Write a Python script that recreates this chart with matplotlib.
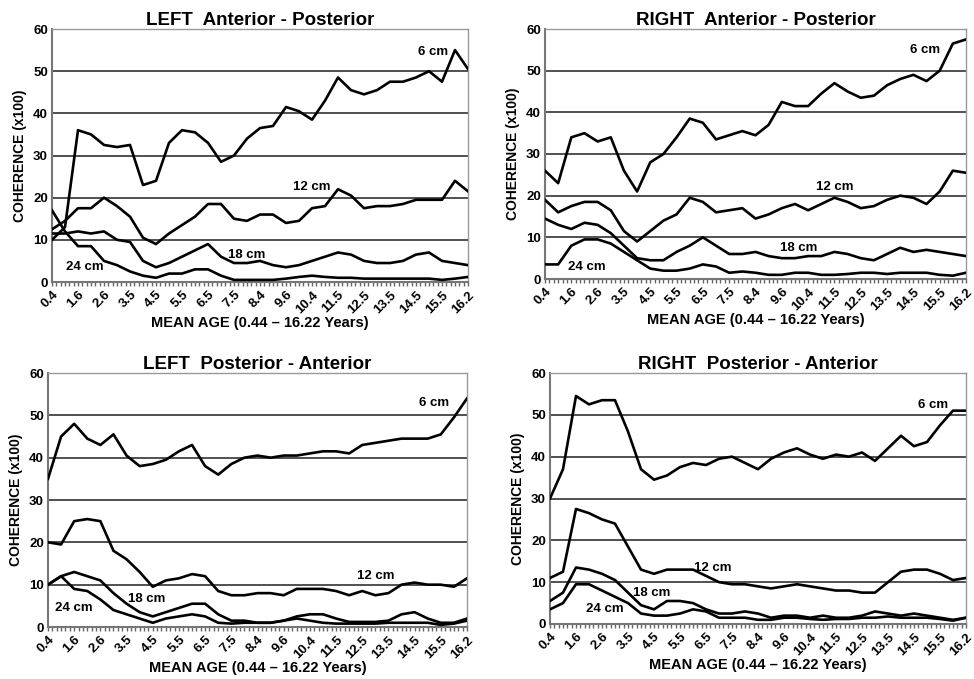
import numpy as np
import matplotlib
matplotlib.use("Agg")
import matplotlib.pyplot as plt
from matplotlib.ticker import MultipleLocator

plt.rcParams['font.family'] = ['Liberation Sans', 'DejaVu Sans']

# age tick labels (every second sample)
age_labels = ['0.4', '1.6', '2.6', '3.5', '4.5', '5.5', '6.5', '7.5', '8.4',
              '9.6', '10.4', '11.5', '12.5', '13.5', '14.5', '15.5', '16.2']

# LEFT Anterior - Posterior
la_6 = [10, 13, 36, 35, 32.5, 32, 32.5, 23, 24, 33, 36, 35.5, 33, 28.5, 30, 34, 36.5,
        37, 41.5, 40.5, 38.5, 43, 48.5, 45.5, 44.5, 45.5, 47.5, 47.5, 48.5, 50, 47.5, 55, 50.5]
la_12 = [12.5, 14.5, 17.5, 17.5, 20, 18, 15.5, 10.5, 9, 11.5, 13.5, 15.5, 18.5, 18.5, 15, 14.5, 16,
         16, 14, 14.5, 17.5, 18, 22, 20.5, 17.5, 18, 18, 18.5, 19.5, 19.5, 19.5, 24, 21.5]
la_18 = [11.5, 11.5, 12, 11.5, 12, 10, 9.5, 5, 3.5, 4.5, 6, 7.5, 9, 6, 4.5, 4.5, 5,
         4, 3.5, 4, 5, 6, 7, 6.5, 5, 4.5, 4.5, 5, 6.5, 7, 5, 4.5, 4]
la_24 = [17, 12, 8.5, 8.5, 5, 4, 2.5, 1.5, 1, 2, 2, 3, 3, 1.5, 0.5, 0.5, 0.5,
         0.5, 0.8, 1.2, 1.5, 1.2, 1, 1, 0.8, 0.8, 0.8, 0.8, 0.8, 0.8, 0.5, 0.8, 1.2]

# RIGHT Anterior - Posterior
ra_6 = [26, 23, 34, 35, 33, 34, 26, 21, 28, 30, 34, 38.5, 37.5, 33.5, 34.5, 35.5, 34.5,
        37, 42.5, 41.5, 41.5, 44.5, 47, 45, 43.5, 44, 46.5, 48, 49, 47.5, 50, 56.5, 57.5]
ra_12 = [19, 16, 17.5, 18.5, 18.5, 16.5, 11.5, 9, 11.5, 14, 15.5, 19.5, 18.5, 16, 16.5, 17, 14.5,
         15.5, 17, 18, 16.5, 18, 19.5, 18.5, 17, 17.5, 19, 20, 19.5, 18, 21, 26, 25.5]
ra_18 = [14.5, 13, 12, 13.5, 13, 11, 8, 5, 4.5, 4.5, 6.5, 8, 10, 8, 6, 6, 6.5,
         5.5, 5, 5, 5.5, 5.5, 6.5, 6, 5, 4.5, 6, 7.5, 6.5, 7, 6.5, 6, 5.5]
ra_24 = [3.5, 3.5, 8, 9.5, 9.5, 8.5, 6.5, 4.5, 2.5, 2, 2, 2.5, 3.5, 3, 1.5, 1.8, 1.5,
         1, 1, 1.5, 1.5, 1, 1, 1.2, 1.5, 1.5, 1.2, 1.5, 1.5, 1.5, 1, 0.8, 1.5]

# LEFT Posterior - Anterior
lp_6 = [35, 45, 48, 44.5, 43, 45.5, 40.5, 38, 38.5, 39.5, 41.5, 43, 38, 36, 38.5, 40, 40.5,
        40, 40.5, 40.5, 41, 41.5, 41.5, 41, 43, 43.5, 44, 44.5, 44.5, 44.5, 45.5, 49.5, 54]
lp_12 = [20, 19.5, 25, 25.5, 25, 18, 16, 13, 9.5, 11, 11.5, 12.5, 12, 8.5, 7.5, 7.5, 8,
         8, 7.5, 9, 9, 9, 8.5, 7.5, 8.5, 7.5, 8, 10, 10.5, 10, 10, 9.5, 11.5]
lp_18 = [10, 12, 13, 12, 11, 8, 5.5, 3.5, 2.5, 3.5, 4.5, 5.5, 5.5, 3, 1.5, 1.5, 1,
         1, 1.5, 2.5, 3, 3, 2, 1.2, 1.2, 1.2, 1.5, 3, 3.5, 2, 1, 1, 2]
lp_24 = [10, 12, 9, 8.5, 6.5, 4, 3, 2, 1, 2, 2.5, 3, 2.5, 1, 0.8, 1, 1,
         1, 1.5, 2, 1.5, 1, 0.8, 0.8, 0.8, 0.8, 1, 1, 1, 1, 0.5, 0.8, 1.5]

# RIGHT Posterior - Anterior
rp_6 = [30, 37, 54.5, 52.5, 53.5, 53.5, 46, 37, 34.5, 35.5, 37.5, 38.5, 38, 39.5, 40, 38.5, 37,
        39.5, 41, 42, 40.5, 39.5, 40.5, 40, 41, 39, 42, 45, 42.5, 43.5, 47.5, 51, 51]
rp_12 = [11, 12.5, 27.5, 26.5, 25, 24, 18.5, 13, 12, 13, 13, 13, 11.5, 10, 9.5, 9.5, 9,
         8.5, 9, 9.5, 9, 8.5, 8, 8, 7.5, 7.5, 10, 12.5, 13, 13, 12, 10.5, 11]
rp_18 = [5.5, 7.5, 13.5, 13, 12, 10.5, 7.5, 4.5, 3.5, 5.5, 5.5, 5, 3.5, 2.5, 2.5, 3, 2.5,
         1.5, 2, 2, 1.5, 2, 1.5, 1.5, 2, 3, 2.5, 2, 2.5, 2, 1.5, 1, 1.5]
rp_24 = [3.5, 5, 9.5, 9.5, 8, 6.5, 5, 2.5, 2, 2, 2.5, 3.5, 3, 1.5, 1.5, 1.5, 1,
         1, 1.5, 1.5, 1.2, 1, 1.2, 1.2, 1.5, 1.5, 1.8, 1.5, 1.5, 1.5, 1.2, 0.8, 1.5]

series_names = ['6 cm', '12 cm', '18 cm', '24 cm']

panels = [
    ("LEFT  Anterior - Posterior", [la_6, la_12, la_18, la_24],
     [(29.3, 54.5), (20.0, 22.5), (15.0, 6.3), (2.5, 3.5)],
     [52, 29, 468, 282]),
    ("RIGHT  Anterior - Posterior", [ra_6, ra_12, ra_18, ra_24],
     [(28.9, 55.0), (22.0, 22.2), (19.3, 7.4), (3.2, 3.0)],
     [545, 29, 966, 279]),
    ("LEFT  Posterior - Anterior", [lp_6, lp_12, lp_18, lp_24],
     [(29.5, 53.0), (25.0, 12.0), (7.5, 6.5), (2.0, 4.4)],
     [48, 373, 467, 627]),
    ("RIGHT  Posterior - Anterior", [rp_6, rp_12, rp_18, rp_24],
     [(29.5, 52.4), (12.5, 13.5), (7.8, 7.3), (4.2, 3.7)],
     [550, 373, 966, 624]),
]

W, H = 974, 679
fig = plt.figure(figsize=(W / 100, H / 100), dpi=100)

for title, data, label_pos, box in panels:
    l, t, r, b = box
    ax = fig.add_axes([l / W, 1 - b / H, (r - l) / W, (b - t) / H])
    x = np.arange(len(data[0]))
    for vals, name, (lx, ly) in zip(data, series_names, label_pos):
        ax.plot(x, vals, color='black', lw=1.9, zorder=3)
        ax.text(lx, ly, name, ha='center', va='center', fontsize=9.5,
                fontweight='bold', zorder=4)
    ax.set_xlim(0, len(x) - 1)
    ax.set_ylim(0, 60)
    ax.set_yticks(range(0, 61, 10))
    for yv in range(10, 61, 10):
        ax.axhline(yv, color='#505050', lw=1.4, zorder=1)
    ax.set_xticks(np.arange(0, len(x), 2))
    ax.set_xticklabels(age_labels, rotation=45, ha='right', rotation_mode='anchor',
                       fontsize=9.5, fontweight='bold')
    ax.xaxis.set_minor_locator(MultipleLocator(1 / 3))
    ax.tick_params(axis='x', which='both', direction='out', length=3, width=1,
                   color='#666666', pad=2)
    ax.tick_params(axis='y', length=0, pad=3, labelsize=9.5)
    for lab in ax.get_yticklabels():
        lab.set_fontweight('bold')
    for side in ['left', 'bottom']:
        ax.spines[side].set_color('#777777')
        ax.spines[side].set_linewidth(1.5)
    for side in ['top', 'right']:
        ax.spines[side].set_color('#999999')
        ax.spines[side].set_linewidth(1.0)
    ax.set_title(title, fontsize=13.5, fontweight='bold', pad=2)
    ax.set_ylabel('COHERENCE (x100)', fontsize=10, fontweight='bold', labelpad=4)
    ax.set_xlabel('MEAN AGE (0.44 \u2013 16.22 Years)', fontsize=10.5,
                  fontweight='bold', labelpad=0)

fig.savefig('out.png', dpi=100, facecolor='white')
